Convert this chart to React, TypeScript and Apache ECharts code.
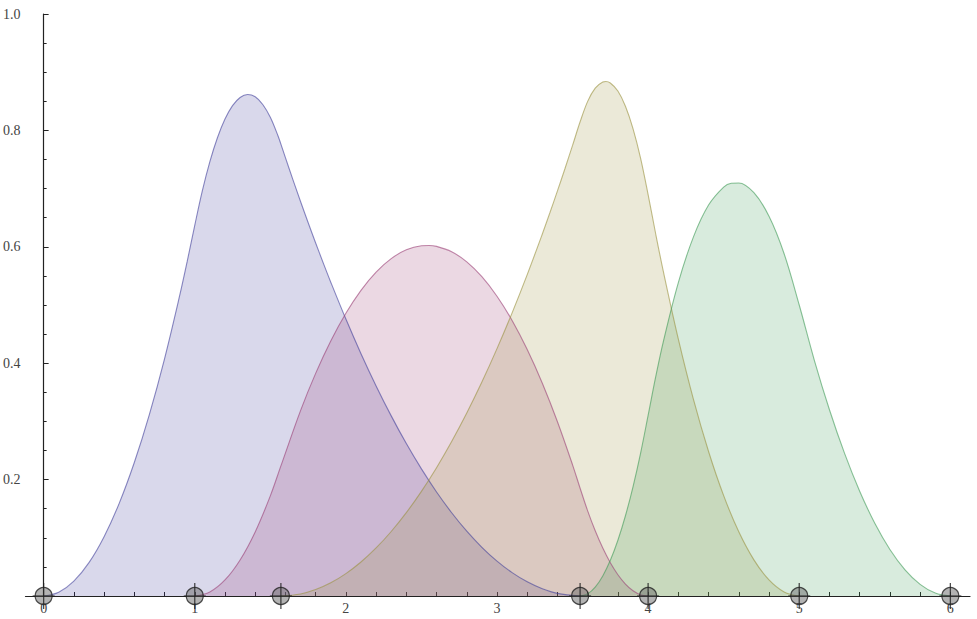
import React, { useEffect, useRef } from "react";
import * as echarts from "echarts";

// Knot positions (circled markers on the x axis)
const knots = [0, 1, 1.57, 3.55, 4, 5, 6];

// Axis ticks / labels
const xTickValues = [0, 0.2, 0.4, 0.6, 0.8, 1, 1.2, 1.4, 1.6, 1.8, 2, 2.2, 2.4, 2.6, 2.8, 3, 3.2, 3.4, 3.6, 3.8, 4, 4.2, 4.4, 4.6, 4.8, 5, 5.2, 5.4, 5.6, 5.8, 6];
const xLabelValues = [0, 1, 2, 3, 4, 5, 6];

// Series 1 (blue)
const blueX = [0, 0.1, 0.2, 0.3, 0.4, 0.5, 0.6, 0.7, 0.8, 0.9, 0.95, 1.0, 1.05, 1.1, 1.15, 1.2, 1.25, 1.3, 1.35, 1.4, 1.45, 1.5, 1.55, 1.57, 1.6, 1.65, 1.7, 1.75, 1.8, 1.85, 1.9, 2.0, 2.1, 2.2, 2.3, 2.4, 2.5, 2.6, 2.7, 2.8, 2.9, 3.0, 3.1, 3.2, 3.3, 3.4, 3.55];
const blueY = [0, 0.0064, 0.0255, 0.0573, 0.1019, 0.1592, 0.2293, 0.3121, 0.4076, 0.5159, 0.5748, 0.6369, 0.696, 0.7463, 0.7873, 0.8195, 0.8425, 0.8566, 0.8617, 0.8577, 0.8445, 0.8225, 0.7913, 0.7765, 0.7531, 0.715, 0.6779, 0.6417, 0.6066, 0.5724, 0.5392, 0.4758, 0.4164, 0.361, 0.3095, 0.2619, 0.2184, 0.1787, 0.1431, 0.1114, 0.0837, 0.0599, 0.0401, 0.0243, 0.0124, 0.0045, 0];

// Series 2 (pink)
const pinkX = [1, 1.1, 1.2, 1.3, 1.4, 1.5, 1.57, 1.7, 1.8, 1.9, 2.0, 2.1, 2.2, 2.3, 2.4, 2.5, 2.55, 2.6, 2.7, 2.8, 2.9, 3.0, 3.1, 3.2, 3.3, 3.4, 3.5, 3.55, 3.6, 3.65, 3.7, 3.75, 3.8, 3.85, 3.9, 3.95, 4];
const pinkY = [0, 0.0069, 0.0275, 0.0619, 0.1101, 0.172, 0.2235, 0.3186, 0.3825, 0.4381, 0.4857, 0.5252, 0.5566, 0.5797, 0.5949, 0.6018, 0.6023, 0.6007, 0.5915, 0.5742, 0.5487, 0.5151, 0.4734, 0.4235, 0.3656, 0.2995, 0.2254, 0.1852, 0.1463, 0.112, 0.0823, 0.0572, 0.0366, 0.0206, 0.0091, 0.0023, 0];

// Series 3 (tan)
const tanX = [1.57, 1.7, 1.8, 1.9, 2.0, 2.1, 2.2, 2.3, 2.4, 2.5, 2.6, 2.7, 2.8, 2.9, 3.0, 3.1, 3.2, 3.3, 3.35, 3.4, 3.45, 3.5, 3.55, 3.6, 3.65, 3.7, 3.72, 3.75, 3.8, 3.85, 3.9, 3.95, 4.0, 4.05, 4.1, 4.2, 4.3, 4.4, 4.5, 4.6, 4.7, 4.8, 4.9, 5.0];
const tanY = [0, 0.0035, 0.011, 0.0226, 0.0384, 0.0584, 0.0825, 0.1108, 0.1432, 0.1798, 0.2205, 0.2654, 0.3144, 0.3676, 0.425, 0.4865, 0.5522, 0.622, 0.6585, 0.696, 0.7346, 0.7742, 0.8148, 0.8499, 0.8727, 0.8832, 0.884, 0.8815, 0.8677, 0.8415, 0.8031, 0.7525, 0.6897, 0.6224, 0.5586, 0.4414, 0.3379, 0.2483, 0.1724, 0.1103, 0.0621, 0.0276, 0.0069, 0];

// Series 4 (green)
const greenX = [3.55, 3.6, 3.65, 3.7, 3.75, 3.8, 3.85, 3.9, 3.95, 4.0, 4.05, 4.1, 4.2, 4.3, 4.4, 4.5, 4.55, 4.6, 4.7, 4.8, 4.9, 5.0, 5.1, 5.2, 5.3, 5.4, 5.5, 5.6, 5.7, 5.8, 5.9, 6.0];
const greenY = [0, 0.0038, 0.0153, 0.0345, 0.0613, 0.0958, 0.1379, 0.1877, 0.2452, 0.3103, 0.3764, 0.4364, 0.5386, 0.6171, 0.6717, 0.7026, 0.7091, 0.7097, 0.6929, 0.6524, 0.5881, 0.5, 0.405, 0.32, 0.245, 0.18, 0.125, 0.08, 0.045, 0.02, 0.005, 0];

const FONT = "'Liberation Serif', 'Times New Roman', serif";
const AXIS_COLOR = "#222";

export default function App() {
  const ref = useRef<HTMLDivElement>(null);

  useEffect(() => {
    if (!ref.current) return;
    const chart = echarts.init(ref.current, null, { renderer: "svg" });
    const zip = (xs: number[], ys: number[]) => xs.map((x, i) => [x, ys[i]]);
    const curve = (name: string, xs: number[], ys: number[], rgb: string) => ({
      type: "line",
      name,
      data: zip(xs, ys),
      smooth: 0.35,
      symbol: "none",
      silent: true,
      lineStyle: { color: `rgba(${rgb},0.6)`, width: 1.1 },
      areaStyle: { color: `rgba(${rgb},0.2)`, opacity: 1 },
      z: 2,
    });
    const knotData = knots.map((k) => [k, 0]);

    chart.setOption({
      animation: false,
      backgroundColor: "#fff",
      grid: { left: 25, right: 7, top: 14, bottom: 23 },
      xAxis: {
        type: "value",
        min: -0.12,
        max: 6.13,
        axisLine: { onZero: false, lineStyle: { color: AXIS_COLOR, width: 1.2 } },
        axisTick: { show: true, inside: true, length: 4, customValues: xTickValues, lineStyle: { color: AXIS_COLOR } },
        axisLabel: { customValues: xLabelValues, margin: 5, fontFamily: FONT, fontSize: 14, color: "#444" },
        splitLine: { show: false },
      },
      yAxis: {
        type: "value",
        min: 0,
        max: 1,
        interval: 0.2,
        axisLine: { show: true, onZero: true, lineStyle: { color: AXIS_COLOR, width: 1.2 } },
        axisTick: { show: true, inside: true, length: 5, lineStyle: { color: AXIS_COLOR } },
        minorTick: { show: true, splitNumber: 4, length: 3, lineStyle: { color: AXIS_COLOR } },
        axisLabel: {
          showMinLabel: false,
          margin: 5,
          fontFamily: FONT,
          fontSize: 14,
          color: "#444",
          formatter: (v: number) => v.toFixed(1),
        },
        splitLine: { show: false },
        minorSplitLine: { show: false },
      },
      series: [
        curve("B1", blueX, blueY, "63,61,153"),
        curve("B2", pinkX, pinkY, "153,61,116"),
        curve("B3", tanX, tanY, "153,145,61"),
        curve("B4", greenX, greenY, "61,153,85"),
        {
          type: "scatter",
          data: knotData,
          symbol: "circle",
          symbolSize: 17,
          silent: true,
          itemStyle: { color: "rgba(110,110,110,0.65)", borderColor: "#222", borderWidth: 1.2 },
          z: 5,
        },
        {
          type: "scatter",
          data: knotData,
          symbol: "rect",
          symbolSize: [1.3, 26],
          silent: true,
          itemStyle: { color: "#222" },
          z: 6,
        },
        {
          type: "scatter",
          data: knotData,
          symbol: "rect",
          symbolSize: [22, 1.3],
          silent: true,
          itemStyle: { color: "#222" },
          z: 6,
        },
      ],
    });
    return () => chart.dispose();
  }, []);

  return (
    <div
      ref={ref}
      style={{ position: "fixed", left: 0, top: 0, width: 977, height: 619, background: "#fff" }}
    />
  );
}
